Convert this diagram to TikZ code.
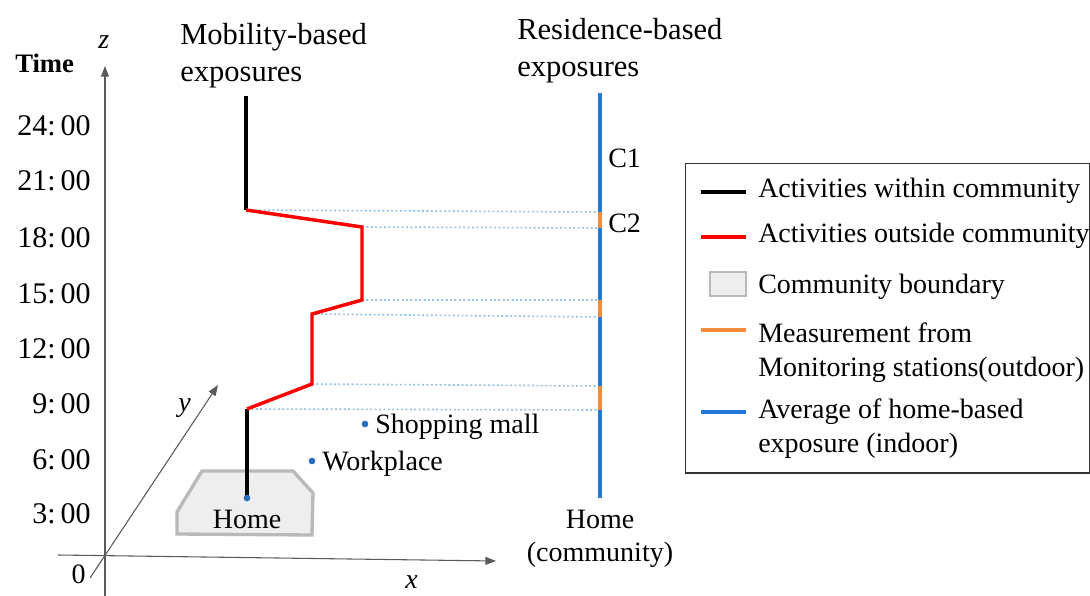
\documentclass[tikz,border=0pt]{standalone}
\usepackage{fontspec}
\setmainfont{Liberation Serif}
\usetikzlibrary{arrows.meta}
\definecolor{actred}{RGB}{255,0,0}
\definecolor{resblue}{RGB}{35,120,215}
\definecolor{measorange}{RGB}{247,140,60}
\definecolor{dotblue}{RGB}{150,195,235}
\definecolor{ptblue}{RGB}{40,110,190}
\definecolor{bndfill}{RGB}{238,238,238}
\definecolor{bnddraw}{RGB}{185,185,185}
\definecolor{axisgray}{RGB}{90,90,90}
\tikzset{
  lbl/.style={font=\fontsize{21}{25}\selectfont, inner sep=0pt},
  ttl/.style={font=\fontsize{22.9}{27}\selectfont, inner sep=0pt},
  tlbl/.style={font=\fontsize{22.5}{27}\selectfont, inner sep=0pt},
  axisline/.style={draw=axisgray, line width=0.8pt},
  axisarrow/.style={axisline, -{Triangle[length=8pt,width=6pt]}},
  inside/.style={draw=black, line width=3pt},
  outside/.style={draw=actred, line width=2.6pt, line join=miter},
  resline/.style={draw=resblue, line width=3pt},
  measline/.style={draw=measorange, line width=3pt},
  guide/.style={draw=dotblue, line width=1.2pt, dash pattern=on 1.5pt off 1.8pt},
  boundary/.style={fill=bndfill, draw=bnddraw, line width=2.5pt},
  place/.style={circle, fill=ptblue, inner sep=0pt, minimum size=5pt},
  legline/.style={line width=2.3pt},
}
\begin{document}
\begin{tikzpicture}[x=0.75pt,y=-0.75pt]
\useasboundingbox (0,0) rectangle (1090,596);

% axes
\coordinate (zb) at (105,596);
\coordinate (zt) at (105,66);
\coordinate (xl) at (58,555);
\coordinate (xr) at (496,561);
\coordinate (yl) at (90,578);
\coordinate (yr) at (218,385);
\draw[axisarrow] (zb) -- (zt);
\draw[axisarrow] (xl) -- (xr);
\draw[axisarrow] (yl) -- (yr);
\node[lbl, anchor=base west, font=\fontsize{21}{25}\selectfont\itshape] (zlab) at (98,48) {z};
\node[lbl, anchor=base west, font=\fontsize{21}{25}\selectfont\itshape] (ylab) at (178,411) {y};
\node[lbl, anchor=base west, font=\fontsize{21}{25}\selectfont\itshape] (xlab) at (405,588) {x};
\node[lbl, anchor=base east] (zero) at (86,583) {0};
\node[lbl, anchor=base west, font=\fontsize{20}{24}\selectfont\bfseries] (time) at (15,72) {Time};

% time labels
\node[tlbl, anchor=base east] (t24) at (91,135) {24:\,00};
\node[tlbl, anchor=base east] (t21) at (91,190) {21:\,00};
\node[tlbl, anchor=base east] (t18) at (91,247) {18:\,00};
\node[tlbl, anchor=base east] (t15) at (91,303) {15:\,00};
\node[tlbl, anchor=base east] (t12) at (91,358) {12:\,00};
\node[tlbl, anchor=base east] (t9) at (91,413) {9:\,00};
\node[tlbl, anchor=base east] (t6) at (91,469) {6:\,00};
\node[tlbl, anchor=base east] (t3) at (91,523) {3:\,00};

% titles
\node[ttl, anchor=base west] (mob1) at (180,45) {Mobility-based};
\node[ttl, anchor=base west] (mob2) at (180,81) {exposures};
\node[ttl, anchor=base west] (res1) at (517,40) {Residence-based};
\node[ttl, anchor=base west] (res2) at (517,76) {exposures};

% community boundary
\draw[boundary] (177,512) -- (202,471) -- (293,471) -- (313,493) -- (312,535) -- (177,534) -- cycle;
\node[lbl, anchor=base] (homelab) at (247,528) {Home};

% places
\node[place] (work) at (312,461) {};
\node[lbl, anchor=base west] (worklab) at (322,470) {Workplace};
\node[place] (mall) at (365,424) {};
\node[lbl, anchor=base west] (malllab) at (375,433) {Shopping mall};

% mobility path
\coordinate (top) at (246,96);
\coordinate (v1) at (246,210);
\coordinate (v2) at (362,227);
\coordinate (v3) at (362,300);
\coordinate (v4) at (312,314);
\coordinate (v5) at (312,384);
\coordinate (v6) at (247,409);
\coordinate (homept) at (247,498);

% residence line points
\coordinate (rtop) at (600,93);
\coordinate (r1) at (600,212);
\coordinate (r2) at (600,228);
\coordinate (r3) at (600,300);
\coordinate (r4) at (600,317);
\coordinate (r5) at (600,386);
\coordinate (r6) at (600,410);
\coordinate (rbot) at (600,498);

% guide lines
\draw[guide] (v1) -- (r1);
\draw[guide] (v2) -- (r2);
\draw[guide] (v3) -- (r3);
\draw[guide] (v4) -- (r4);
\draw[guide] (v5) -- (r5);
\draw[guide] (v6) -- (r6);

\draw[inside] (top) -- (v1);
\draw[inside] (v6) -- (homept);
\draw[outside] (v1) -- (v2) -- (v3) -- (v4) -- (v5) -- (v6);
\node[place] (home) at (homept) {};

\draw[resline] (rtop) -- (rbot);
\draw[measline] (r1) -- (r2);
\draw[measline] (r3) -- (r4);
\draw[measline] (r5) -- (r6);
\node[lbl, anchor=base west] (c1) at (608,167) {C1};
\node[lbl, anchor=base west] (c2) at (608,232) {C2};
\node[lbl, anchor=base] (rhome1) at (600,528) {Home};
\node[lbl, anchor=base] (rhome2) at (600,561) {(community)};

% legend
\node[draw=black!80, line width=1pt, minimum width=303pt, minimum height=232pt, inner sep=0pt, anchor=north west] (legend) at (685,163) {};
\draw[legline, black] (701,192) -- (746,192);
\draw[legline, actred] (701,237) -- (746,237);
\draw[fill=bndfill, draw=bnddraw, line width=2.2pt] (710,272) rectangle (746,296);
\draw[legline, measorange] (701,330) -- (746,330);
\draw[legline, resblue] (701,412) -- (746,412);
\node[lbl, anchor=base west] (l1) at (758,197) {Activities within community};
\node[lbl, anchor=base west] (l2) at (758,242) {Activities outside community};
\node[lbl, anchor=base west] (l3) at (758,293) {Community boundary};
\node[lbl, anchor=base west] (l4a) at (758,342) {Measurement from};
\node[lbl, anchor=base west] (l4b) at (758,376) {Monitoring stations(outdoor)};
\node[lbl, anchor=base west] (l5a) at (758,418) {Average of home-based};
\node[lbl, anchor=base west] (l5b) at (758,452) {exposure (indoor)};
\end{tikzpicture}
\end{document}
